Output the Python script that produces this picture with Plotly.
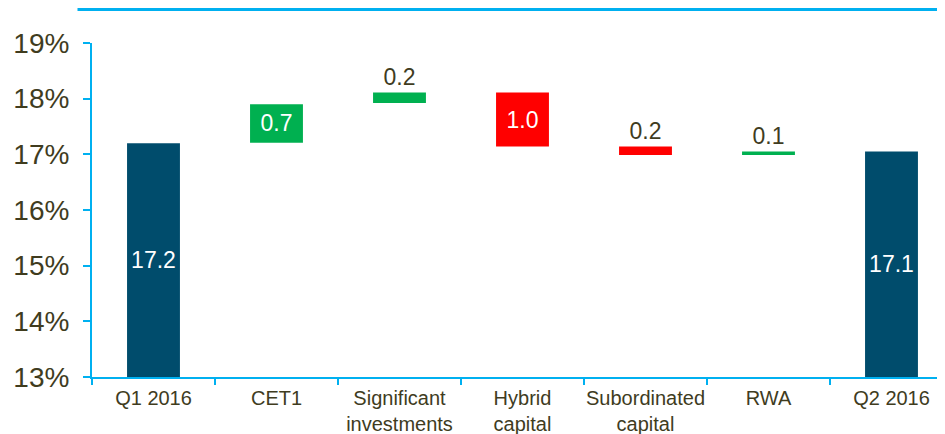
import plotly.graph_objects as go

categories = ["Q1 2016", "CET1", "Significant<br>investments", "Hybrid<br>capital",
              "Subordinated<br>capital", "RWA", "Q2 2016"]
bar_low = [13.0, 17.21, 17.92, 17.14, 16.99, 16.99, 13.0]
bar_high = [17.2, 17.90, 18.11, 18.11, 17.14, 17.05, 17.05]
bar_labels = ["17.2", "0.7", "0.2", "1.0", "0.2", "0.1", "17.1"]
bar_kind = ["total", "up", "up", "down", "down", "up", "total"]
y_ticks = [13, 14, 15, 16, 17, 18, 19]

NAVY = "#004C6C"
GREEN = "#00B050"
RED = "#FF0000"
CYAN = "#00B0F0"
TXT = "#403C1E"

color_map = {"total": NAVY, "up": GREEN, "down": RED}
colors = [color_map[k] for k in bar_kind]
heights = [h - l for h, l in zip(bar_high, bar_low)]
positions = ["inside" if (h >= 0.5) else "outside" for h in heights]
text_colors = ["white" if p == "inside" else TXT for p in positions]

fig = go.Figure()
fig.add_trace(go.Bar(
    x=categories, y=heights, base=bar_low,
    marker=dict(color=colors, line=dict(width=0)),
    width=0.43,
    text=bar_labels, textposition=positions,
    insidetextanchor="middle",
    textfont=dict(family="Liberation Sans, Arial, sans-serif", size=23, color=text_colors),
    constraintext="none",
    cliponaxis=False,
    hoverinfo="skip",
))

fig.update_layout(
    width=937, height=426,
    margin=dict(l=84, r=0, t=35, b=57, autoexpand=False),
    paper_bgcolor="white", plot_bgcolor="white",
    showlegend=False,
    font=dict(family="Liberation Sans, Arial, sans-serif", color=TXT),
)
fig.update_xaxes(
    range=[-0.5, 6.435],
    showline=True, linecolor=CYAN, linewidth=2,
    ticks="outside", tickson="boundaries", ticklen=6, tickcolor=CYAN, tickwidth=2,
    tickfont=dict(size=20, color=TXT), tickangle=0, automargin=False,
    ticklabelstandoff=2,
    showgrid=False, zeroline=False,
)
fig.update_yaxes(
    range=[13, 19],
    tickvals=y_ticks, ticktext=[f"{v}%" for v in y_ticks],
    showline=True, linecolor=CYAN, linewidth=2,
    ticks="outside", ticklen=7, tickcolor=CYAN, tickwidth=2,
    tickfont=dict(size=28, color=TXT), automargin=False,
    ticklabelstandoff=8,
    showgrid=False, zeroline=False,
)
fig.add_shape(type="line", xref="paper", yref="paper",
              x0=-0.017, x1=1.0, y0=1.1, y1=1.1,
              line=dict(color=CYAN, width=3))

fig.write_html("out.html")
